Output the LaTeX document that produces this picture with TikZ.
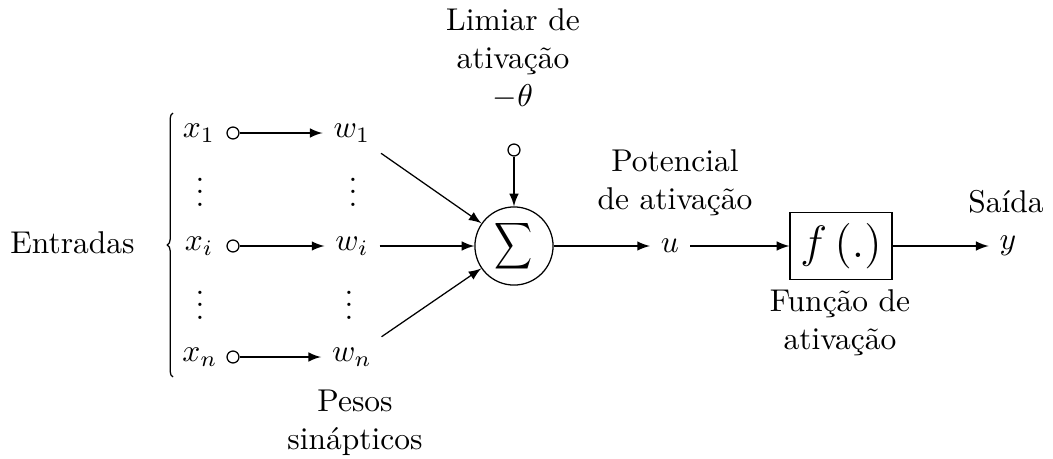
\documentclass[tikz,border=0pt]{standalone}
\usepackage{graphicx}
\usetikzlibrary{decorations.pathreplacing}
\newcommand\tightvdots{\vbox{\baselineskip4pt\lineskiplimit0pt\hbox{.}\hbox{.}\hbox{.}}}
\begin{document}
\begin{tikzpicture}[x=0.31746pt, y=-0.31746pt,
  lbl/.style={align=center, inner sep=0pt},
  dotsn/.style={inner sep=0pt},
  pin/.style={circle, draw, minimum size=3.8pt, inner sep=0pt},
  arr/.style={-latex},
  sumnode/.style={circle, draw, minimum size=24.8pt, inner sep=0pt},
  fbox/.style={draw, minimum width=32.4pt, minimum height=21.3pt, inner sep=0pt, font=\Large}]
\useasboundingbox (0,0) rectangle (1053,459);

\node[anchor=base] (ent) at (72.5,253) {Entradas};
\coordinate (bt) at (173,113);
\coordinate (bb) at (173,377);
\draw[decorate, decoration={brace, amplitude=1.8pt}] (bb) -- (bt);

\node (x1) at (199,133) {$x_1$};
\node (xi) at (199,246) {$x_i$};
\node (xn) at (200,357) {$x_n$};
\node[dotsn] (xd1) at (200,192) {\tightvdots};
\node[dotsn] (xd2) at (200,305) {\tightvdots};

\node[pin] (p1) at (233,133) {};
\node[pin] (pi) at (233,246) {};
\node[pin] (pn) at (233,357) {};

\node (w1) at (352,133) {$w_1$};
\node (wi) at (352,246) {$w_i$};
\node (wn) at (352,357) {$w_n$};
\node[dotsn] (wd1) at (353,192) {\tightvdots};
\node[dotsn] (wd2) at (349,305) {\tightvdots};

\draw[arr] (p1) -- (w1);
\draw[arr] (pi) -- (wi);
\draw[arr] (pn) -- (wn);

\node[sumnode] (sum) at (514,246) {\resizebox*{12.1pt}{16.5pt}{$\displaystyle\sum$}};
\draw[arr] (w1) -- (sum);
\draw[arr] (wi) -- (sum);
\draw[arr] (wn) -- (sum);

\node[pin] (th) at (514,150) {};
\draw[arr] (th) -- (sum);
\node[lbl] (lim) at (513,59) {Limiar de\\ativação\\$-\theta$};

\node (u) at (670,246) {$u$};
\draw[arr] (sum) -- (u);
\node[lbl] (pot) at (675,183) {Potencial\\de ativação};

\node[fbox] (f) at (841,246) {$f\left(.\right)$};
\draw[arr] (u) -- (f);
\node[lbl] (fun) at (840,323) {Função de\\ativação};

\node (y) at (1008,246) {$y$};
\draw[arr] (f) -- (y);
\node[lbl] (sai) at (1006,202) {Saída};

\node[lbl] (pes) at (355,423) {Pesos\\sinápticos};
\end{tikzpicture}
\end{document}
